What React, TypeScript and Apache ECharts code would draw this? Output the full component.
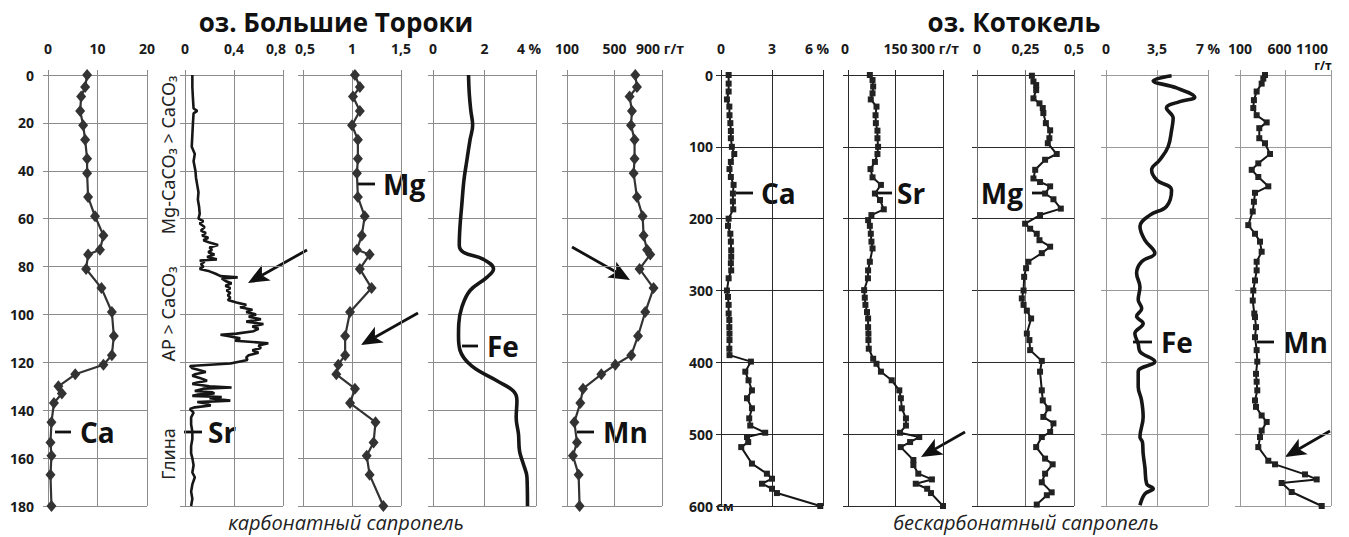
import React, { useEffect, useRef } from 'react';
import * as echarts from 'echarts';

type Pt = [number, number]; // [value, depth]

// ---- оз. Большие Тороки (depth, cm: 0–180) ----
const torokiCa: Pt[] = [
  [7.9, 0], [7.5, 5], [6.7, 9], [6.5, 15], [7.1, 21], [7.5, 27], [7.9, 35], [7.9, 41],
  [8.1, 51], [9.5, 59], [11.2, 67], [10.5, 73], [8.1, 75], [7.7, 81], [10.8, 89], [12.9, 99],
  [13.3, 109], [12.9, 117], [11.2, 121], [5.5, 125], [2.1, 130], [2.8, 133], [1.2, 137],
  [0.7, 145], [0.5, 153.5], [0.7, 159], [0.5, 167], [0.7, 180],
];

const torokiSr: Pt[] = [
  [0.06, 0], [0.06, 5], [0.065, 10], [0.07, 14], [0.1, 15], [0.07, 16], [0.065, 20], [0.06, 25],
  [0.055, 30], [0.08, 33], [0.07, 36], [0.085, 40], [0.09, 43], [0.1, 46], [0.11, 49], [0.105, 52],
  [0.115, 55], [0.12, 58], [0.11, 60], [0.15, 61], [0.12, 62], [0.16, 63.5], [0.13, 65], [0.17, 66],
  [0.14, 67], [0.19, 68], [0.15, 69], [0.2, 70], [0.27, 71], [0.2, 72], [0.22, 73], [0.19, 74],
  [0.24, 75], [0.18, 76], [0.26, 77], [0.12, 77.5], [0.16, 78], [0.13, 79], [0.15, 80], [0.12, 81],
  [0.2, 82], [0.25, 83], [0.29, 84], [0.43, 84.5], [0.3, 85], [0.33, 86], [0.38, 87], [0.33, 88],
  [0.37, 89], [0.34, 90], [0.37, 91], [0.35, 92], [0.37, 93], [0.35, 94], [0.42, 95], [0.5, 96],
  [0.45, 97], [0.55, 98], [0.5, 99], [0.58, 100], [0.52, 101], [0.62, 102], [0.5, 103], [0.64, 104],
  [0.55, 105], [0.6, 106], [0.56, 107], [0.42, 108], [0.29, 108.5], [0.35, 109], [0.45, 110],
  [0.41, 111], [0.68, 112], [0.6, 113], [0.62, 114], [0.55, 115], [0.6, 116], [0.52, 117],
  [0.5, 118], [0.51, 119], [0.37, 120.5], [0.04, 121.5], [0.06, 122.5], [0.1, 123], [0.17, 124],
  [0.08, 125], [0.06, 125.6], [0.12, 126.5], [0.18, 127.7], [0.09, 128.5], [0.06, 129], [0.2, 130],
  [0.38, 130.5], [0.15, 131], [0.08, 132], [0.22, 132.5], [0.24, 133], [0.1, 133.5], [0.06, 134],
  [0.3, 134.5], [0.2, 135], [0.37, 136], [0.1, 136.6], [0.17, 137.2], [0.21, 138], [0.08, 138.8],
  [0.04, 139.5], [0.07, 141], [0.05, 143], [0.05, 146], [0.06, 149], [0.06, 152], [0.05, 155],
  [0.05, 158], [0.06, 160], [0.07, 163], [0.06, 166], [0.08, 168], [0.06, 171], [0.05, 174],
  [0.06, 177], [0.05, 180],
];

const torokiMg: Pt[] = [
  [1.03, 0], [1.08, 5], [1.01, 9], [1.08, 15], [1.0, 21], [1.06, 27], [1.06, 35], [1.05, 41],
  [1.06, 51], [1.13, 59], [1.1, 67], [1.05, 73], [1.18, 75], [1.08, 81], [1.2, 89], [0.98, 99],
  [0.93, 109], [0.93, 117], [0.86, 121], [0.84, 125], [1.03, 131], [0.98, 137], [1.24, 145],
  [1.22, 153.5], [1.15, 159], [1.18, 167], [1.32, 180],
];

const torokiFe: Pt[] = [
  [1.38, 0], [1.41, 8], [1.47, 15], [1.54, 21], [1.44, 27], [1.31, 36], [1.2, 44], [1.12, 54],
  [1.05, 63], [1.02, 71], [1.18, 74], [1.96, 77], [2.35, 81], [2.09, 84.5], [1.44, 90], [1.12, 97],
  [1.0, 104], [0.99, 109], [1.05, 115], [1.5, 121.5], [2.48, 127.7], [3.12, 132], [3.26, 136],
  [3.23, 143], [3.32, 150], [3.36, 157], [3.51, 162.5], [3.65, 168], [3.67, 180],
];

const torokiMn: Pt[] = [
  [675, 0], [689, 5], [627, 9], [647, 15], [639, 21], [669, 27], [669, 35], [661, 41], [689, 51],
  [737, 59], [745, 67], [774, 73], [801, 75], [711, 81], [829, 89], [759, 99], [698, 109],
  [641, 117], [507, 121], [389, 125], [235, 131], [212, 137], [162, 145], [184, 153.5],
  [150, 159], [198, 167], [206, 180],
];

// ---- оз. Котокель (depth, cm: 0–600) ----
const kotokelCa: Pt[] = [
  [0.45, 0], [0.45, 12], [0.45, 23], [0.35, 34], [0.49, 44], [0.5, 56], [0.55, 67], [0.58, 78],
  [0.58, 88], [0.64, 100], [0.78, 110], [0.58, 121], [0.5, 131], [0.58, 142], [0.74, 153],
  [0.7, 165], [0.7, 176], [0.72, 187], [0.45, 200], [0.41, 210], [0.55, 221], [0.58, 232],
  [0.6, 244], [0.6, 253], [0.58, 262], [0.6, 272], [0.45, 283], [0.35, 300], [0.41, 309],
  [0.45, 320], [0.45, 332], [0.49, 341], [0.49, 351], [0.5, 360], [0.5, 369], [0.49, 381],
  [0.5, 390], [1.76, 399], [1.43, 413], [1.62, 425], [1.82, 439], [1.53, 450], [1.82, 464],
  [1.66, 478], [1.72, 488], [2.6, 498], [1.53, 504], [1.6, 511], [1.19, 518], [1.82, 541],
  [2.7, 555], [3.0, 562], [2.41, 569], [3.0, 576], [3.29, 582], [5.84, 600],
];

const kotokelSr: Pt[] = [
  [69, 0], [77.5, 7], [79.5, 16], [77.5, 25.5], [72, 34], [90, 44], [87, 56], [88, 67], [93, 77.5],
  [93, 88], [95, 100], [93, 110], [85, 121], [71, 131], [77.5, 142.5], [104, 153], [85, 165],
  [101, 174], [113, 187], [74, 195], [63.5, 202], [69, 210], [72, 221], [74, 232], [77.5, 241.5],
  [69, 260], [63.5, 272], [63, 283], [51, 299.5], [53, 310], [55, 320], [60, 330], [63.5, 339],
  [63.5, 351], [64.5, 360], [64.5, 369], [65.6, 381], [79.5, 395], [90, 402], [104, 413],
  [138, 425], [162, 439], [167, 450], [170, 464], [183, 478], [183, 488], [164, 498], [225, 504],
  [196, 511], [166.5, 518], [206.5, 536], [206.5, 543], [222, 555], [265, 563], [214, 569],
  [250, 576], [262, 582], [300, 600],
];

const kotokelMg: Pt[] = [
  [0.283, 1], [0.291, 9], [0.305, 14], [0.305, 21], [0.291, 32.5], [0.322, 39.5], [0.339, 46],
  [0.342, 53], [0.355, 67], [0.377, 77], [0.373, 88], [0.365, 95], [0.411, 110], [0.351, 118],
  [0.3, 132], [0.291, 144], [0.325, 149], [0.377, 155], [0.351, 165], [0.394, 173], [0.432, 186],
  [0.325, 195], [0.248, 207], [0.274, 214], [0.308, 221], [0.322, 230], [0.377, 239],
  [0.334, 248], [0.265, 260], [0.253, 269], [0.243, 281], [0.24, 300], [0.231, 311], [0.24, 320],
  [0.257, 328], [0.279, 339], [0.257, 360], [0.27, 369], [0.274, 383], [0.334, 398], [0.325, 413],
  [0.334, 439], [0.339, 453], [0.368, 464], [0.342, 476], [0.394, 485], [0.377, 497],
  [0.334, 504], [0.305, 518], [0.351, 534], [0.39, 542], [0.351, 555], [0.334, 567], [0.385, 581],
  [0.36, 585], [0.308, 598],
];

const kotokelFe: Pt[] = [
  [4.5, 1], [3.24, 8], [4.84, 18], [6.09, 31], [5.06, 37], [4.15, 46], [4.61, 60], [4.5, 77],
  [4.26, 100], [3.7, 118], [3.13, 132], [3.47, 146], [4.5, 160], [4.15, 183], [3.01, 195],
  [2.33, 211], [2.67, 230], [3.35, 248], [2.44, 260], [2.1, 276], [2.33, 295], [2.21, 313],
  [2.45, 325], [2.1, 336], [2.55, 346], [1.98, 360], [2.21, 374], [2.33, 385], [3.35, 399],
  [2.21, 413], [2.21, 434], [2.44, 453], [2.55, 476], [2.33, 504], [2.5, 511], [2.55, 527],
  [2.67, 546], [2.79, 569], [3.24, 576], [2.67, 583], [2.33, 599],
];

const kotokelMn: Pt[] = [
  [375, 0], [356, 5], [338, 12], [283, 23], [253, 35], [246, 46], [283, 56], [393, 66], [312, 74],
  [312, 88], [375, 95], [430, 110], [301, 123], [229, 132], [301, 142], [411, 155], [265, 164],
  [253, 176.5], [240, 190], [191, 209], [265, 221], [320, 232], [338, 246], [283, 260], [283, 272],
  [265, 286], [246, 300], [240, 314], [257, 332], [265, 337], [276, 351], [265, 365], [283, 383],
  [290, 399], [276, 416], [283, 427], [290, 439], [265, 453], [276, 462], [338, 474], [393, 483],
  [338, 495], [320, 504], [301, 518], [411, 537], [485, 542], [814, 556], [943, 563], [558, 568],
  [668, 580.5], [998, 600],
];

// ---- texts ----
const lakeTitles = ['оз. Большие Тороки', 'оз. Котокель'];
const sedimentCaptions = ['карбонатный сапропель', 'бескарбонатный сапропель'];
const zoneLabels = ['Mg-CaCO₃ > CaCO₃', 'AP > CaCO₃', 'Глина'];
const elementNames = ['Ca', 'Sr', 'Mg', 'Fe', 'Mn', 'Ca', 'Sr', 'Mg', 'Fe', 'Mn'];

const FONT = "'Open Sans', 'Noto Sans', 'DejaVu Sans', sans-serif";
const INK = '#1a1a1a';

interface Panel {
  data: Pt[];
  left: number;
  width: number;
  min: number;
  max: number;
  interval: number;
  unit: string;
  shifts: [number, number, number];
  depthMax: number;
  depthStep: number;
  depthLabels: boolean;
  depthMargin: number;
  symbol: string;
  symbolSize: number | number[];
  lineWidth: number;
  smooth: number | boolean;
  gridX: string;
  gridY: string;
}

const LG = '#8c8c8c';
const DK = '#2a2a2a';

const panels: Panel[] = [
  { data: torokiCa, left: 48, width: 99, min: 0, max: 20, interval: 10, unit: '', shifts: [0, 0, 0], depthMax: 180, depthStep: 20, depthLabels: true, depthMargin: 14, symbol: 'diamond', symbolSize: [10, 12], lineWidth: 2.2, smooth: false, gridX: LG, gridY: LG },
  { data: torokiSr, left: 185, width: 98, min: 0, max: 0.8, interval: 0.4, unit: '', shifts: [0, 0, -7], depthMax: 180, depthStep: 20, depthLabels: false, depthMargin: 8, symbol: 'none', symbolSize: 0, lineWidth: 2.6, smooth: false, gridX: LG, gridY: LG },
  { data: torokiMg, left: 303, width: 98, min: 0.5, max: 1.5, interval: 0.5, unit: '', shifts: [2, 0, 0], depthMax: 180, depthStep: 20, depthLabels: false, depthMargin: 8, symbol: 'diamond', symbolSize: [10, 12], lineWidth: 2.2, smooth: false, gridX: LG, gridY: LG },
  { data: torokiFe, left: 433, width: 103, min: 0, max: 4, interval: 2, unit: '%', shifts: [0, 0, -7], depthMax: 180, depthStep: 20, depthLabels: false, depthMargin: 8, symbol: 'none', symbolSize: 0, lineWidth: 3.6, smooth: 0.4, gridX: LG, gridY: LG },
  { data: torokiMn, left: 567, width: 95, min: 100, max: 900, interval: 400, unit: 'г/т', shifts: [0, 0, -2], depthMax: 180, depthStep: 20, depthLabels: false, depthMargin: 8, symbol: 'diamond', symbolSize: [10, 12], lineWidth: 2.2, smooth: false, gridX: LG, gridY: LG },
  { data: kotokelCa, left: 721, width: 102, min: 0, max: 6, interval: 3, unit: '%', shifts: [0, 0, -6], depthMax: 600, depthStep: 100, depthLabels: true, depthMargin: 8, symbol: 'rect', symbolSize: 6, lineWidth: 2, smooth: false, gridX: DK, gridY: DK },
  { data: kotokelSr, left: 848, width: 95, min: 0, max: 300, interval: 150, unit: 'г/т', shifts: [-3, 0, -8], depthMax: 600, depthStep: 100, depthLabels: false, depthMargin: 8, symbol: 'rect', symbolSize: 6, lineWidth: 2, smooth: false, gridX: DK, gridY: DK },
  { data: kotokelMg, left: 977, width: 97, min: 0, max: 0.5, interval: 0.25, unit: '', shifts: [0, 0, 0], depthMax: 600, depthStep: 100, depthLabels: false, depthMargin: 8, symbol: 'rect', symbolSize: 6, lineWidth: 2, smooth: false, gridX: '#6a6a6a', gridY: DK },
  { data: kotokelFe, left: 1106, width: 102, min: 0, max: 7, interval: 3.5, unit: '%', shifts: [0, 0, 0], depthMax: 600, depthStep: 100, depthLabels: false, depthMargin: 8, symbol: 'none', symbolSize: 0, lineWidth: 3.6, smooth: 0.4, gridX: '#9a9a9a', gridY: '#9a9a9a' },
  { data: kotokelMn, left: 1240, width: 91, min: 100, max: 1100, interval: 500, unit: '', shifts: [0, -6, -19], depthMax: 600, depthStep: 100, depthLabels: false, depthMargin: 8, symbol: 'rect', symbolSize: 6, lineWidth: 2, smooth: false, gridX: '#9a9a9a', gridY: '#9a9a9a' },
];

const PLOT_TOP = 75;
const PLOT_H = 431;

const fmt = (v: number) => String(+v.toFixed(3)).replace('.', ',');

const labelToken = (shift: number) => ({
  fontFamily: FONT,
  fontSize: 14,
  fontWeight: 'bold' as const,
  color: INK,
  padding: shift >= 0 ? [0, 0, 0, 2 * shift] : [0, -2 * shift, 0, 0],
});

function arrow(tail: [number, number], tip: [number, number]) {
  const dx = tip[0] - tail[0];
  const dy = tip[1] - tail[1];
  const len = Math.hypot(dx, dy);
  const ux = dx / len;
  const uy = dy / len;
  const L = 21;
  const W = 9;
  const bx = tip[0] - ux * L;
  const by = tip[1] - uy * L;
  const nx = -uy;
  const ny = ux;
  const notch = 5;
  return [
    {
      type: 'line',
      shape: { x1: tail[0], y1: tail[1], x2: bx + ux * notch, y2: by + uy * notch },
      style: { stroke: '#111', lineWidth: 2.8 },
    },
    {
      type: 'polygon',
      shape: {
        points: [
          tip,
          [bx + nx * W, by + ny * W],
          [bx + ux * notch, by + uy * notch],
          [bx - nx * W, by - ny * W],
        ],
      },
      style: { fill: '#111' },
    },
  ];
}

function elementTag(name: string, dashX1: number, dashX2: number, y: number, textX: number, align: 'left' | 'right' = 'left') {
  return [
    {
      type: 'line',
      shape: { x1: dashX1, y1: y, x2: dashX2, y2: y },
      style: { stroke: '#111', lineWidth: 2.8 },
    },
    {
      type: 'text',
      x: textX,
      y,
      style: {
        text: name,
        fontFamily: FONT,
        fontSize: 28,
        fontWeight: 'bold',
        fill: '#111',
        align,
        verticalAlign: 'middle',
        textAlign: align,
        textVerticalAlign: 'middle',
      },
    },
  ];
}

function plainText(text: string, x: number, y: number, size: number, weight: string, extra: any = {}) {
  return {
    type: 'text',
    x,
    y,
    ...extra,
    style: {
      text,
      fontFamily: FONT,
      fontSize: size,
      fontWeight: weight,
      fill: '#111',
      align: 'center',
      verticalAlign: 'middle',
      textAlign: 'center',
      textVerticalAlign: 'middle',
      ...(extra.style || {}),
    },
  };
}

export default function App() {
  const ref = useRef<HTMLDivElement>(null);

  useEffect(() => {
    if (!ref.current) return;
    const chart = echarts.init(ref.current, undefined, { renderer: 'svg' });

    const grid = panels.map((p) => ({ left: p.left, width: p.width, top: PLOT_TOP, height: PLOT_H }));

    const xAxis = panels.map((p, i) => ({
      type: 'value',
      gridIndex: i,
      position: 'top',
      min: p.min,
      max: p.max,
      interval: p.interval,
      axisLine: { show: false },
      axisTick: { show: true, length: 5, lineStyle: { color: p.gridX } },
      splitLine: { show: true, lineStyle: { color: p.gridX, width: 1 } },
      axisLabel: {
        show: true,
        margin: 20,
        showMinLabel: true,
        showMaxLabel: true,
        formatter: (v: number) => {
          const pos = Math.abs(v - p.min) < 1e-9 ? 0 : Math.abs(v - p.max) < 1e-9 ? 2 : 1;
          const txt = pos === 2 && p.unit ? `${fmt(v)} ${p.unit}` : fmt(v);
          return `{p${pos}|${txt}}`;
        },
        rich: { p0: labelToken(p.shifts[0]), p1: labelToken(p.shifts[1]), p2: labelToken(p.shifts[2]) },
      },
    }));

    const yAxis = panels.map((p, i) => ({
      type: 'value',
      gridIndex: i,
      inverse: true,
      min: 0,
      max: p.depthMax,
      interval: p.depthStep,
      axisLine: { show: false },
      axisTick: { show: true, length: 5, lineStyle: { color: p.gridY } },
      splitLine: { show: true, lineStyle: { color: p.gridY, width: 1 } },
      axisLabel: {
        show: p.depthLabels,
        margin: p.depthMargin,
        fontFamily: FONT,
        fontSize: 14,
        fontWeight: 'bold',
        color: INK,
      },
    }));

    const series = panels.map((p, i) => ({
      type: 'line',
      name: elementNames[i],
      xAxisIndex: i,
      yAxisIndex: i,
      data: p.data,
      symbol: p.symbol,
      symbolSize: p.symbolSize,
      showSymbol: p.symbol !== 'none',
      smooth: p.smooth,
      lineStyle: { color: p.symbol === 'diamond' ? '#333' : '#161616', width: p.lineWidth },
      itemStyle: { color: p.symbol === 'diamond' ? '#333' : '#222' },
      silent: true,
      z: 3,
    }));

    const zoneFont = { fontFamily: "'Noto Sans', 'Open Sans', sans-serif", fill: '#222' };

    const graphic: any[] = [
      plainText(lakeTitles[0], 336, 22, 26, 'bold'),
      plainText(lakeTitles[1], 1014, 22, 26, 'bold'),
      plainText(sedimentCaptions[0], 346, 522, 20, 'normal', { style: { fontStyle: 'italic', fill: '#222' } }),
      plainText(sedimentCaptions[1], 1026, 522, 20, 'normal', { style: { fontStyle: 'italic', fill: '#222' } }),
      plainText(zoneLabels[0], 168, 155, 18, 'normal', { rotation: Math.PI / 2, style: zoneFont }),
      plainText(zoneLabels[1], 168, 314, 18, 'normal', { rotation: Math.PI / 2, style: zoneFont }),
      plainText(zoneLabels[2], 168, 454, 18, 'normal', { rotation: Math.PI / 2, style: zoneFont }),
      // unit fragments next to tick labels
      plainText('см', 725, 506, 13, 'bold'),
      plainText('г/т', 1323, 65, 12, 'bold'),
      // element tags
      ...elementTag(elementNames[0], 55, 71, 432, 80),
      ...elementTag(elementNames[1], 184, 202, 432, 208),
      ...elementTag(elementNames[2], 358, 375, 184, 383),
      ...elementTag(elementNames[3], 462, 478, 346, 487),
      ...elementTag(elementNames[4], 577, 594, 432, 603),
      ...elementTag(elementNames[5], 736, 753, 193, 761),
      ...elementTag(elementNames[6], 874, 892, 193, 897),
      ...elementTag(elementNames[7], 1032, 1048, 193, 1023, 'right'),
      ...elementTag(elementNames[8], 1133, 1152, 342, 1161),
      ...elementTag(elementNames[9], 1257, 1274, 342, 1283),
      // arrows
      ...arrow([307, 250], [248, 283]),
      ...arrow([418, 313], [361, 345]),
      ...arrow([572, 247], [630, 280]),
      ...arrow([965, 432], [921, 457]),
      ...arrow([1330, 431], [1285, 457]),
    ];

    chart.setOption({
      animation: false,
      backgroundColor: '#ffffff',
      grid,
      xAxis,
      yAxis,
      series,
      graphic,
    });

    return () => chart.dispose();
  }, []);

  return (
    <div
      ref={ref}
      style={{ position: 'fixed', left: 0, top: 0, width: 1349, height: 537, background: '#fff' }}
    />
  );
}
